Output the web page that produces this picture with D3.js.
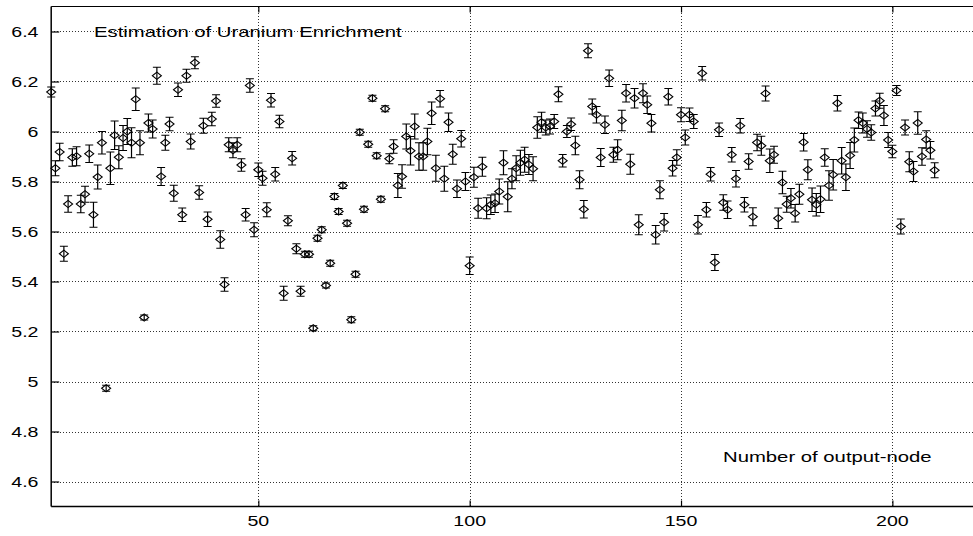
<!DOCTYPE html>
<html><head><meta charset="utf-8">
<script src="https://cdn.jsdelivr.net/npm/d3@7"></script>
<style>
html,body{margin:0;padding:0;background:#fff;}
svg{display:block;}
text{font-family:"Liberation Sans",Arial,Helvetica,sans-serif;fill:#000;}
</style></head>
<body>
<svg id="chart" width="973" height="536"></svg>
<script>
// Estimated enrichment per output node (node = index + 1)
const values = [
6.158,5.853,5.918,5.511,5.710,5.896,5.901,5.710,5.749,5.911,
5.667,5.818,5.955,4.973,5.853,5.985,5.897,5.974,6.000,5.955,
6.129,5.955,5.256,6.034,6.010,6.223,5.820,5.955,6.030,5.753,
6.167,5.667,6.223,5.960,6.275,5.756,6.023,5.649,6.050,6.122,
5.568,5.388,5.947,5.925,5.947,5.866,5.667,6.184,5.607,5.847,
5.813,5.687,6.125,5.829,6.040,5.353,5.643,5.893,5.531,5.361,
5.509,5.509,5.213,5.573,5.607,5.384,5.473,5.740,5.680,5.784,
5.633,5.247,5.429,5.997,5.689,5.949,6.133,5.903,5.729,6.091,
5.891,5.940,5.784,5.820,5.980,5.923,6.020,5.900,5.900,5.960,
6.073,5.853,6.131,5.811,6.037,5.909,5.771,5.971,5.800,5.463,
5.817,5.693,5.859,5.693,5.707,5.713,5.760,5.875,5.739,5.811,
5.853,5.875,5.887,5.868,5.851,6.016,6.037,6.016,6.020,6.040,
6.149,5.883,6.000,6.029,5.944,5.807,5.689,6.323,6.100,6.067,
5.896,6.027,6.213,5.907,5.927,6.044,6.153,5.869,6.133,5.627,
6.153,6.107,6.033,5.587,5.767,5.637,6.139,5.853,5.896,6.067,
5.976,6.067,6.040,5.627,6.233,5.687,5.829,5.476,6.007,5.716,
5.687,5.907,5.811,6.023,5.707,5.880,5.659,5.956,5.943,6.152,
5.883,5.907,5.653,5.796,5.709,5.733,5.673,5.749,5.957,5.847,
5.727,5.707,5.729,5.896,5.784,5.827,6.113,5.883,5.817,5.904,
5.966,6.045,6.034,6.010,5.996,6.092,6.123,6.064,5.966,5.920,
6.164,5.620,6.016,5.879,5.840,6.034,5.900,5.968,5.925,5.845
];
// Half-length of each error bar
const errors = [
.020,.030,.035,.030,.033,.035,.038,.035,.032,.035,
.050,.048,.045,.012,.065,.057,.046,.050,.052,.060,
.045,.048,.010,.036,.036,.034,.036,.030,.027,.032,
.027,.027,.026,.030,.024,.027,.030,.029,.027,.025,
.035,.027,.028,.030,.028,.025,.025,.027,.028,.027,
.028,.028,.027,.027,.025,.028,.020,.027,.020,.020,
.012,.012,.010,.012,.012,.010,.012,.012,.012,.012,
.012,.012,.012,.012,.012,.012,.012,.012,.012,.012,
.020,.027,.048,.047,.050,.057,.050,.055,.055,.053,
.045,.052,.033,.050,.037,.040,.035,.033,.036,.035,
.040,.040,.038,.042,.039,.037,.050,.048,.060,.040,
.050,.050,.050,.040,.048,.043,.040,.030,.030,.028,
.030,.025,.024,.025,.037,.036,.035,.028,.030,.033,
.036,.035,.033,.030,.040,.041,.035,.040,.039,.040,
.038,.035,.035,.037,.036,.035,.033,.031,.031,.028,
.030,.027,.028,.037,.027,.029,.027,.032,.027,.031,
.035,.029,.033,.029,.029,.031,.036,.033,.038,.030,
.047,.034,.041,.045,.032,.039,.035,.040,.035,.040,
.047,.045,.053,.035,.059,.061,.031,.053,.053,.052,
.048,.033,.040,.033,.031,.030,.030,.040,.030,.025,
.020,.030,.030,.040,.040,.045,.035,.035,.035,.030
];
const xTicks = [50, 100, 150, 200];
const yTicks = [4.6, 4.8, 5.0, 5.2, 5.4, 5.6, 5.8, 6.0, 6.2, 6.4];
const yTickLabels = ["4.6","4.8","5","5.2","5.4","5.6","5.8","6","6.2","6.4"];
const chartTitle = "Estimation of Uranium Enrichment";
const xTitle = "Number of output-node";

(function () {
const data = values.map((v, i) => ({node: i + 1, v, e: errors[i]}));

const W = 973;
const pl = 51.2, pt = 6.5, pb = 506.5;
const x = d3.scaleLinear().domain([1, 220]).range([pl, pl + 219 * 4.227]);
const y = d3.scaleLinear().domain([4.5, 6.5]).range([pb, pt]);
const SX = 1.4; // horizontal stretch of the original lettering

const svg = d3.select("#chart");
const pr = W + 5;

// grid
const grid = svg.append("g").attr("stroke", "#333").attr("stroke-width", 1).attr("stroke-dasharray", "1,2").attr("shape-rendering","crispEdges");
grid.selectAll("line.h").data(yTicks).join("line").attr("class","h")
  .attr("x1", pl).attr("x2", pr).attr("y1", d => Math.round(y(d))+0.5).attr("y2", d => Math.round(y(d))+0.5);
grid.selectAll("line.v").data(xTicks).join("line").attr("class","v")
  .attr("y1", pt).attr("y2", pb).attr("x1", d => Math.round(x(d))+0.5).attr("x2", d => Math.round(x(d))+0.5);

// axes via d3
const yAxis = d3.axisLeft(y).tickValues(yTicks).tickSize(-8).tickFormat(() => "");
const gy = svg.append("g").attr("transform", `translate(${pl},0)`).call(yAxis);
const xAxis = d3.axisBottom(x).tickValues(xTicks).tickSize(-6).tickFormat(() => "");
const gx = svg.append("g").attr("transform", `translate(0,${pb})`).call(xAxis);
const xTop = d3.axisTop(x).tickValues(xTicks).tickSize(-6).tickFormat(() => "");
const gt = svg.append("g").attr("transform", `translate(0,${pt})`).call(xTop);
[gy, gx, gt].forEach(g => { g.select(".domain").remove(); g.selectAll("line").attr("stroke","#000").attr("stroke-width",1.2); });

// frame
svg.append("line").attr("x1", pl).attr("x2", pl).attr("y1", pt).attr("y2", pb).attr("stroke","#000").attr("stroke-width",1.5);
svg.append("line").attr("x1", pl).attr("x2", pr).attr("y1", pb).attr("y2", pb).attr("stroke","#000").attr("stroke-width",1.5);
svg.append("line").attr("x1", pl).attr("x2", pr).attr("y1", pt).attr("y2", pt).attr("stroke","#000").attr("stroke-width",1.2);

// tick labels
svg.selectAll("text.yl").data(yTicks).join("text").attr("class","yl")
  .attr("transform", d => `translate(38.5,${y(d) + 5}) scale(${SX},1)`)
  .attr("text-anchor","end").attr("font-size", 14)
  .text((d, i) => yTickLabels[i]);
svg.selectAll("text.xl").data(xTicks).join("text").attr("class","xl")
  .attr("transform", d => `translate(${x(d)},526) scale(${SX},1)`)
  .attr("text-anchor","middle").attr("font-size", 14)
  .text(d => d);

// labels
svg.append("text").attr("transform", `translate(94,36.5) scale(${SX},1)`).attr("font-size", 14.5).text(chartTitle);
svg.append("text").attr("transform", `translate(723,462) scale(${SX},1)`).attr("font-size", 14.5).text(xTitle);

// error bars
const eb = svg.append("g").attr("stroke","#000").attr("stroke-width",1.2).attr("fill","none");
const cap = 4;
eb.selectAll("path").data(data).join("path")
  .attr("d", d => {
    const cx = x(d.node), y1 = y(d.v + d.e), y2 = y(d.v - d.e);
    return `M${cx},${y1}V${y2}M${cx-cap},${y1}H${cx+cap}M${cx-cap},${y2}H${cx+cap}`;
  });

// diamond markers
const dw = 4.5, dh = 3.6;
svg.append("g").selectAll("path").data(data).join("path")
  .attr("d", d => {
    const cx = x(d.node), cy = y(d.v);
    return `M${cx-dw},${cy}L${cx},${cy-dh}L${cx+dw},${cy}L${cx},${cy+dh}Z`;
  })
  .attr("fill","none").attr("stroke","#000").attr("stroke-width",1.1);
})();
</script>
</body></html>
